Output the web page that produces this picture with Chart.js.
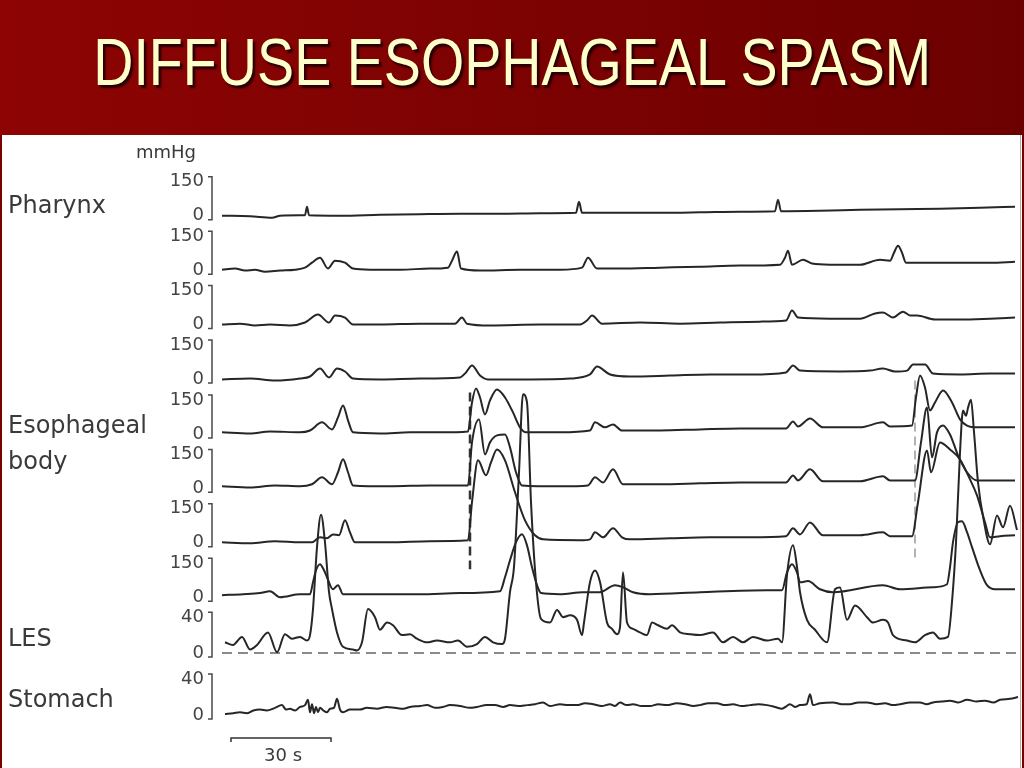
<!DOCTYPE html>
<html>
<head>
<meta charset="utf-8">
<title>Diffuse esophageal spasm</title>
<script src="https://cdn.jsdelivr.net/npm/chart.js@4.4.0/dist/chart.umd.min.js"></script>
<style>
body { margin: 0; width: 1024px; height: 768px; overflow: hidden; background: #fff; position: relative; font-family: "DejaVu Sans", sans-serif; color: #3a3a3a; }
#head { position: absolute; left: 0; top: 0; width: 1024px; height: 135px; background: linear-gradient(90deg, #8e0404, #6c0000); z-index: 2; }
#head h1 { position: absolute; left: 0; top: 29px; width: 100%; margin: 0; text-align: center; font-family: "Liberation Sans", Arial, sans-serif; font-weight: normal; font-size: 66px; line-height: 66px; color: #ffffcc; text-shadow: 3px 3px 2px #2a0000; transform: scaleX(0.843); transform-origin: 513px 0; }
#edgeL { position: absolute; left: 0; top: 135px; width: 2px; height: 633px; background: #7a0000; z-index: 2; }
#edgeR { position: absolute; left: 1022px; top: 135px; width: 2px; height: 633px; background: #7a0000; z-index: 2; }
#frame { position: absolute; left: 1020px; top: 135px; width: 1px; height: 633px; background: #b0b0b0; z-index: 2; }
.lbl { position: absolute; left: 8px; font-size: 24px; line-height: 24px; white-space: nowrap; z-index: 2; }
.sm { position: absolute; font-size: 18px; line-height: 18px; white-space: nowrap; z-index: 2; }
#wrap { position: absolute; left: 0; top: 136px; width: 1024px; height: 633px; z-index: 1; }
</style>
</head>
<body>
<div id="head"><h1>DIFFUSE ESOPHAGEAL SPASM</h1></div>
<div id="edgeL"></div>
<div id="frame"></div>
<div id="edgeR"></div>
<div class="sm" style="left:136px;top:143px">mmHg</div>
<div class="lbl" style="top:193px">Pharynx</div>
<div class="lbl" style="top:413px">Esophageal</div>
<div class="lbl" style="top:449px">body</div>
<div class="lbl" style="top:626px">LES</div>
<div class="lbl" style="top:687px">Stomach</div>
<div class="sm" style="left:264px;top:746px">30 s</div>
<div id="wrap"><canvas id="chart"></canvas></div>
<script>
// readings: [time in s, pressure in mmHg]
const pharynx = [[0.6,0],[9,-2],[15.6,-9],[18,0],[24,2],[25.5,2],[26.1,40],[26.7,2],[36,0],[48,4],[60,7],[72,9],[84,9],[96,11],[106.8,13],[107.7,62],[108.6,13],[120,13],[132,13],[144,15],[156,18],[166.5,20],[167.4,71],[168.3,20],[180,22],[192,26],[204,29],[216,31],[228,35],[238.5,40]];

const esoph1 = [[0.6,2],[4.5,7],[7.5,-2],[10.5,2],[13.5,-7],[18,-2],[22.5,2],[25.5,11],[27.6,33],[30,55],[32.4,7],[34.5,42],[37.5,33],[39.9,7],[45,2],[54,2],[63,7],[68.4,11],[69.6,42],[71.1,82],[72.3,7],[78,-2],[90,2],[102,2],[108.6,11],[110.4,55],[113.1,7],[120,7],[132,11],[144,15],[156,20],[168,24],[169.5,55],[170.4,86],[171.6,24],[174.9,46],[177.6,29],[183,24],[192,24],[198,46],[201,42],[202.2,77],[203.4,108],[204.6,77],[205.8,33],[210,33],[222,33],[231,33],[238.5,37]];

const esoph2 = [[0.6,0],[6,4],[10.5,-4],[15,0],[21,-4],[25.5,9],[29.4,44],[32.7,9],[34.5,40],[37.5,31],[39.9,0],[48,0],[60,4],[70.5,4],[72.6,31],[74.1,4],[81,-4],[96,0],[108,0],[110.1,18],[111.6,40],[114.6,4],[126,9],[138,4],[150,9],[162,13],[169.8,18],[171.6,62],[173.4,31],[183,26],[192,26],[196.5,49],[198.9,53],[201.9,31],[204.9,57],[207,40],[209.1,40],[214.5,22],[222,22],[231,26],[238.5,31]];

const esoph3 = [[0.6,-2],[9,2],[16.5,-7],[24,2],[27,11],[30,46],[32.7,7],[35.1,46],[37.5,33],[39.9,2],[48,-2],[60,2],[72,7],[73.8,29],[75.6,60],[78,15],[80.4,-2],[93,-2],[105,2],[111,20],[113.1,55],[117,20],[123,11],[135,15],[147,20],[159,20],[169.8,29],[171.9,60],[174,37],[186,33],[195,37],[198.9,46],[202.5,33],[206.1,37],[207.9,64],[211.5,64],[213.9,24],[222,20],[231,24],[238.5,24]];

const body1 = [[0.6,7],[9,2],[15,11],[24,7],[27,15],[30.6,51],[33.6,20],[35.4,73],[36.9,126],[38.4,60],[39.9,7],[48,2],[57,7],[66,7],[74.4,11],[75.6,139],[76.8,201],[78,161],[79.5,86],[81,148],[83.1,196],[85.5,161],[87.9,95],[90,29],[91.8,7],[102,7],[111,15],[112.5,51],[115.5,29],[117.9,42],[120.6,15],[132,15],[144,20],[156,24],[169.8,24],[171.9,55],[173.4,33],[177,68],[180.9,29],[192,29],[198.9,51],[201,33],[207.6,37],[208.8,161],[210,258],[211.5,205],[213,104],[214.5,139],[216.9,192],[219.6,139],[222,64],[224.1,37],[227.1,29],[234,29],[238.5,29]];

const body2 = [[0.6,9],[9,4],[16.5,13],[24,9],[27.6,18],[30.6,49],[33.6,18],[35.4,71],[36.9,128],[38.4,71],[39.9,13],[51,9],[63,13],[74.4,13],[75.6,203],[77.7,304],[79.5,150],[81,203],[83.1,234],[85.5,238],[87,181],[88.8,71],[90.6,13],[102,9],[110.4,13],[112.5,49],[114.9,26],[117.9,84],[120.9,18],[132,18],[144,22],[156,26],[169.8,26],[171.9,57],[173.4,35],[177,84],[180.9,31],[192,31],[198.9,53],[201,35],[208.5,35],[210.3,203],[212.1,357],[213.6,137],[215.1,247],[216.9,278],[219,238],[221.4,146],[224.1,71],[227.1,35],[234,35],[238.5,35]];

const body3 = [[0.6,2],[9,-2],[16.5,7],[24,2],[27.6,2],[30,24],[32.1,20],[33.9,37],[35.7,33],[37.5,99],[39,46],[40.5,2],[51,2],[63,7],[74.4,11],[75.6,179],[77.4,364],[79.8,298],[81.3,355],[83.1,412],[85.5,364],[88.5,223],[91.5,99],[94.5,33],[96.9,15],[108,11],[111,15],[112.5,46],[114.9,24],[117.9,64],[120.6,24],[123,15],[135,20],[147,24],[159,24],[169.8,29],[171.9,64],[174,37],[177,90],[180.9,33],[192,33],[198.9,46],[201,29],[207.6,29],[209.4,179],[212.1,408],[213.3,311],[216,443],[219,412],[222,368],[225,280],[227.1,209],[229.5,90],[231,24],[234,29],[238.5,33]];

const body4 = [[0.6,9],[6.9,13],[12,18],[15,26],[18,0],[24,13],[27,13],[27.9,66],[28.8,119],[30,146],[31.2,119],[32.1,88],[33.9,35],[35.4,53],[36.9,13],[48,13],[60,13],[72,18],[84,26],[85.5,88],[87,163],[88.8,243],[90.6,278],[92.1,229],[93.6,132],[95.1,53],[96.3,18],[102,13],[108.9,22],[114,22],[118.5,53],[120.9,44],[123.9,22],[129,13],[144,22],[164.1,31],[168.6,31],[170.1,110],[171.6,146],[173.1,110],[174,66],[176.4,71],[180,35],[183.9,22],[198.9,53],[204,35],[213.9,44],[218.1,57],[219,132],[219.9,243],[221.4,331],[222.6,335],[224.1,287],[225.6,221],[228,119],[230.1,53],[232.5,35],[238.5,35]];

const les = [[1.5,12],[3.9,9],[6.6,18],[9,4],[11.1,9],[14.4,23],[17.1,1],[19.5,21],[21.6,16],[24,18],[26.1,14],[27,20],[27.9,49],[29.1,118],[30.3,154],[31.5,123],[32.7,68],[33.6,49],[35.1,23],[36.9,7],[39.9,4],[41.1,3],[42.6,12],[44.4,49],[46.5,40],[48,26],[50.1,34],[51.9,31],[54.6,20],[57,21],[59.1,16],[62.1,12],[65.1,14],[69,12],[71.4,14],[74.1,7],[77.1,10],[79.5,18],[81.9,12],[84.6,10],[85.5,16],[87,68],[88.2,96],[89.7,201],[90.9,288],[92.1,279],[93.3,168],[94.8,79],[96.3,38],[99,34],[101.1,48],[102.9,40],[105,42],[107.1,37],[108.6,20],[109.2,34],[111,79],[112.5,92],[114,79],[116.1,34],[117.6,27],[119.1,21],[120,29],[120.9,90],[122.1,34],[123.9,27],[126,23],[128.1,20],[129.6,34],[131.4,31],[134.1,27],[135.6,31],[138,23],[141,21],[144,20],[147.9,23],[150.9,12],[153.9,18],[156.9,12],[159.9,18],[164.1,14],[167.4,16],[168.6,12],[170.1,87],[171.9,120],[173.1,96],[174,68],[176.1,37],[178.5,26],[182.1,12],[184.5,71],[186,73],[188.1,37],[190.5,53],[194.1,40],[195.9,34],[198.9,37],[200.4,34],[201.9,20],[206.1,14],[208.5,12],[211.5,20],[213.9,23],[216,16],[218.4,18],[219.6,57],[220.8,123],[222,223],[222.9,270],[223.8,264],[224.4,273],[225.3,282],[226.2,246],[227.4,190],[229.2,146],[231,121],[233.1,153],[234.9,140],[237,164],[239.1,137]];

const stomach = [[1.5,1],[4,2],[6,3],[8,2],[10,5],[12,6],[14,5],[16.5,8],[18.6,11],[19.8,6],[21,7],[22.5,5],[24,9],[25.5,11],[26.4,17],[27,3],[27.6,12],[28.2,2],[28.8,9],[29.4,3],[30,8],[31,5],[32.1,3],[33,7],[34.2,8],[35.1,18],[36,6],[36.9,3],[39,6],[42,6],[44,8],[47.1,7],[50,9],[52.5,8],[55,7],[57,9],[60,10],[62.1,11],[64.5,8],[66.9,9],[69,11],[72,10],[75,8],[77.1,9],[80,11],[82.5,11],[85,9],[87,11],[89.5,10],[92.1,11],[94.5,12],[96.9,14],[99,10],[102,12],[104.5,11],[107.1,11],[109.5,13],[111.9,12],[114.5,10],[117,12],[118.5,10],[120,14],[122,11],[123.9,12],[126.5,10],[129,10],[131.5,12],[134.1,11],[137,13],[139.5,12],[142,10],[144,11],[146.5,13],[149.1,13],[151.5,11],[153.9,12],[156.5,10],[159,11],[161.5,12],[164.1,11],[166.5,9],[168.6,7],[170,10],[171,12],[172.5,9],[174,11],[176,12],[177,23],[177.9,11],[180,13],[183.9,14],[186.5,12],[189,12],[191.5,14],[194.1,14],[197,12],[199.5,13],[202,11],[204,12],[207,14],[210,14],[212,12],[213.9,14],[216.5,15],[219,16],[221.5,14],[224.1,17],[227,15],[229.5,16],[232,14],[234,17],[237,18],[239.4,20]];

const traces = [pharynx, esoph1, esoph2, esoph3, body1, body2, body3, body4, les, stomach];
const tickTops = [150, 150, 150, 150, 150, 150, 150, 150, 40, 40];
const lesGastricBaseline = 0;
const spasmOnsets = [75, 208.5];      // s
const markerTops = [183, 236];        // mmHg on first body channel
const markerBottoms = [-598, -567];
const timeRange = [0, 240];
const scaleBarStart = 3.3;
const scaleBarSeconds = 30;

// layout (canvas px): zero line of each channel, gain in px per mmHg
const zeroPx = [77, 131.5, 186, 240.5, 295.5, 350, 404.5, 459, 515, 577];
const pxPerMmHg = [0.2267, 0.2267, 0.2267, 0.2267, 0.2267, 0.2267, 0.2267, 0.2267, 0.9, 0.9];
const areaTop = 24, gapBelow = 6;

const ink = '#262626';
const scales = { x: { type: 'linear', min: timeRange[0], max: timeRange[1], display: false } };
const datasets = [];

traces.forEach((pts, i) => {
  const id = 'y' + i;
  const top = i === 0 ? areaTop : zeroPx[i - 1] + gapBelow;
  const bottom = zeroPx[i] + gapBelow;
  scales[id] = {
    type: 'linear', position: 'left', stack: 'traces', stackWeight: bottom - top, weight: 20 - i,
    min: -(bottom - zeroPx[i]) / pxPerMmHg[i],
    max: (zeroPx[i] - top) / pxPerMmHg[i],
    grid: { display: false, drawTicks: false },
    border: { display: false },
    ticks: { autoSkip: false, padding: 16, color: '#444', font: { family: 'DejaVu Sans', size: 18 } },
    afterBuildTicks: s => { s.ticks = [{ value: 0 }, { value: tickTops[i] }]; },
    afterFit: s => { s.width = 70; }
  };
  datasets.push({
    data: pts.map(p => ({ x: p[0], y: p[1] })),
    yAxisID: id, borderColor: ink, borderWidth: 2, pointRadius: 0,
    cubicInterpolationMode: 'monotone', clip: false
  });
});

// dashed gastric baseline under the LES trace
datasets.push({
  data: [{ x: 0.6, y: lesGastricBaseline }, { x: timeRange[1], y: lesGastricBaseline }],
  yAxisID: 'y8', borderColor: '#8a8a8a', borderWidth: 2, borderDash: [10, 6], pointRadius: 0, clip: false
});

// dashed spasm onset markers
spasmOnsets.forEach((t, k) => {
  datasets.push({
    data: [{ x: t, y: markerTops[k] }, { x: t, y: markerBottoms[k] }],
    yAxisID: 'y4', borderColor: k === 0 ? '#333' : '#999', borderWidth: k === 0 ? 2.5 : 1.5,
    borderDash: [9, 5], pointRadius: 0, clip: false
  });
});

const brackets = {
  id: 'brackets',
  afterDraw(chart) {
    const ctx = chart.ctx;
    const x = chart.chartArea.left - 8;
    ctx.save();
    ctx.strokeStyle = '#4a4a4a';
    ctx.lineWidth = 1.5;
    traces.forEach((pts, i) => {
      const s = chart.scales['y' + i];
      const top = s.getPixelForValue(tickTops[i]) - 5;
      const bot = s.getPixelForValue(0) + 4;
      ctx.beginPath();
      ctx.moveTo(x - 4, top); ctx.lineTo(x, top); ctx.lineTo(x, bot); ctx.lineTo(x - 4, bot);
      ctx.stroke();
    });
    // time scale bar
    const xs = chart.scales.x;
    const x0 = xs.getPixelForValue(scaleBarStart);
    const x1 = xs.getPixelForValue(scaleBarStart + scaleBarSeconds);
    const y = chart.height - 31;
    ctx.strokeStyle = '#333';
    ctx.beginPath();
    ctx.moveTo(x0, y + 4); ctx.lineTo(x0, y); ctx.lineTo(x1, y); ctx.lineTo(x1, y + 4);
    ctx.stroke();
    ctx.restore();
  }
};

new Chart(document.getElementById('chart'), {
  type: 'line',
  data: { datasets: datasets },
  options: {
    responsive: true,
    maintainAspectRatio: false,
    animation: false,
    layout: { padding: { left: 150, right: 4, top: 16, bottom: 48 } },
    plugins: { legend: { display: false }, tooltip: { enabled: false } },
    scales: scales
  },
  plugins: [brackets]
});
</script>
</body>
</html>
